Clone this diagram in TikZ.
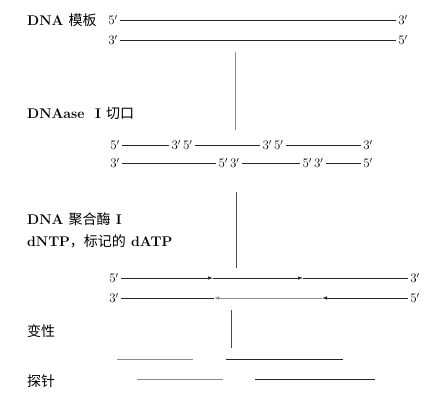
\documentclass[tikz,border=0pt]{standalone}
\usepackage{fontspec}
\newfontfamily\cjk{Noto Sans CJK SC}
\newcommand{\zh}[1]{{\cjk\mdseries #1}}
\usetikzlibrary{arrows.meta}
\begin{document}
\begin{tikzpicture}[x=1pt,y=-1pt,
  endlbl/.style={inner sep=2.5pt,font=\fontsize{13}{15}\selectfont},
  steplbl/.style={anchor=west,inner sep=0pt,font=\fontsize{14}{16}\selectfont\bfseries},
  strand/.style={draw=black!85,line width=0.7pt},
  faint/.style={draw=black!45,line width=0.7pt},
  arr/.style={-{Latex[length=5pt,width=3.5pt]}},
  flow/.style={draw=black!70,line width=0.7pt}]
\useasboundingbox (0,0) rectangle (443,404);

% step labels
\node[steplbl] (l1) at (27,20) {DNA \zh{模板}};
\node[steplbl] (l2) at (27,113) {DNAase\ \ I \zh{切口}};
\node[steplbl] (l3) at (27,219) {DNA \zh{聚合酶} I};
\node[steplbl] (l4) at (27,241) {dNTP\zh{，标记的} dATP};
\node[steplbl] (l5) at (27,331) {\zh{变性}};
\node[steplbl] (l6) at (27,381) {\zh{探针}};

% template
\node[endlbl] (a1) at (113,20) {5$'$};
\node[endlbl] (b1) at (403,20) {3$'$};
\node[endlbl] (a2) at (113,40) {3$'$};
\node[endlbl] (b2) at (403,40) {5$'$};
\draw[strand] (a1.east) -- (b1.west);
\draw[strand] (a2.east) -- (b2.west);

% flow 1
\coordinate (v1a) at (235,52);
\coordinate (v1b) at (235,130);
\draw[faint] (v1a) -- (v1b);

% nicked
\node[endlbl] (n41) at (115,145) {5$'$};
\node[endlbl] (n42) at (182,145) {3$'$\,5$'$};
\node[endlbl] (n43) at (273,145) {3$'$\,5$'$};
\node[endlbl] (n44) at (368,145) {3$'$};
\draw[strand] (n41.east) -- (n42.west);
\draw[strand] (n42.east) -- (n43.west);
\draw[strand] (n43.east) -- (n44.west);
\node[endlbl] (n51) at (115,163) {3$'$};
\node[endlbl] (n52) at (229,163) {5$'$\,3$'$};
\node[endlbl] (n53) at (313,163) {5$'$\,3$'$};
\node[endlbl] (n54) at (368,163) {5$'$};
\draw[strand] (n51.east) -- (n52.west);
\draw[strand] (n52.east) -- (n53.west);
\draw[strand] (n53.east) -- (n54.west);

% flow 2
\coordinate (v2a) at (236,192);
\coordinate (v2b) at (236,268);
\draw[flow] (v2a) -- (v2b);

% nick translation
\node[endlbl] (n61) at (114,278) {5$'$};
\node[endlbl] (n62) at (415,278) {3$'$};
\coordinate (c61) at (213,278);
\coordinate (c62) at (303,278);
\draw[strand,arr] (n61.east) -- (c61);
\draw[strand,arr] (c61) -- (c62);
\draw[strand] (c62) -- (n62.west);
\node[endlbl] (n71) at (114,298) {3$'$};
\node[endlbl] (n72) at (415,298) {5$'$};
\coordinate (c71) at (214,298);
\coordinate (c72) at (322,298);
\draw[strand,arr] (n72.west) -- (c72);
\draw[faint,arr] (c72) -- (c71);
\draw[strand] (c71) -- (n71.east);

% flow 3
\coordinate (v3a) at (231,310);
\coordinate (v3b) at (231,348);
\draw[flow] (v3a) -- (v3b);

% denatured strands
\coordinate (d1a) at (117,359);
\coordinate (d1b) at (193,359);
\coordinate (d2a) at (226,359);
\coordinate (d2b) at (343,359);
\draw[faint] (d1a) -- (d1b);
\draw[strand] (d2a) -- (d2b);

% probes
\coordinate (p1a) at (137,379);
\coordinate (p1b) at (223,379);
\coordinate (p2a) at (255,379);
\coordinate (p2b) at (375,379);
\draw[faint] (p1a) -- (p1b);
\draw[strand] (p2a) -- (p2b);
\end{tikzpicture}
\end{document}
